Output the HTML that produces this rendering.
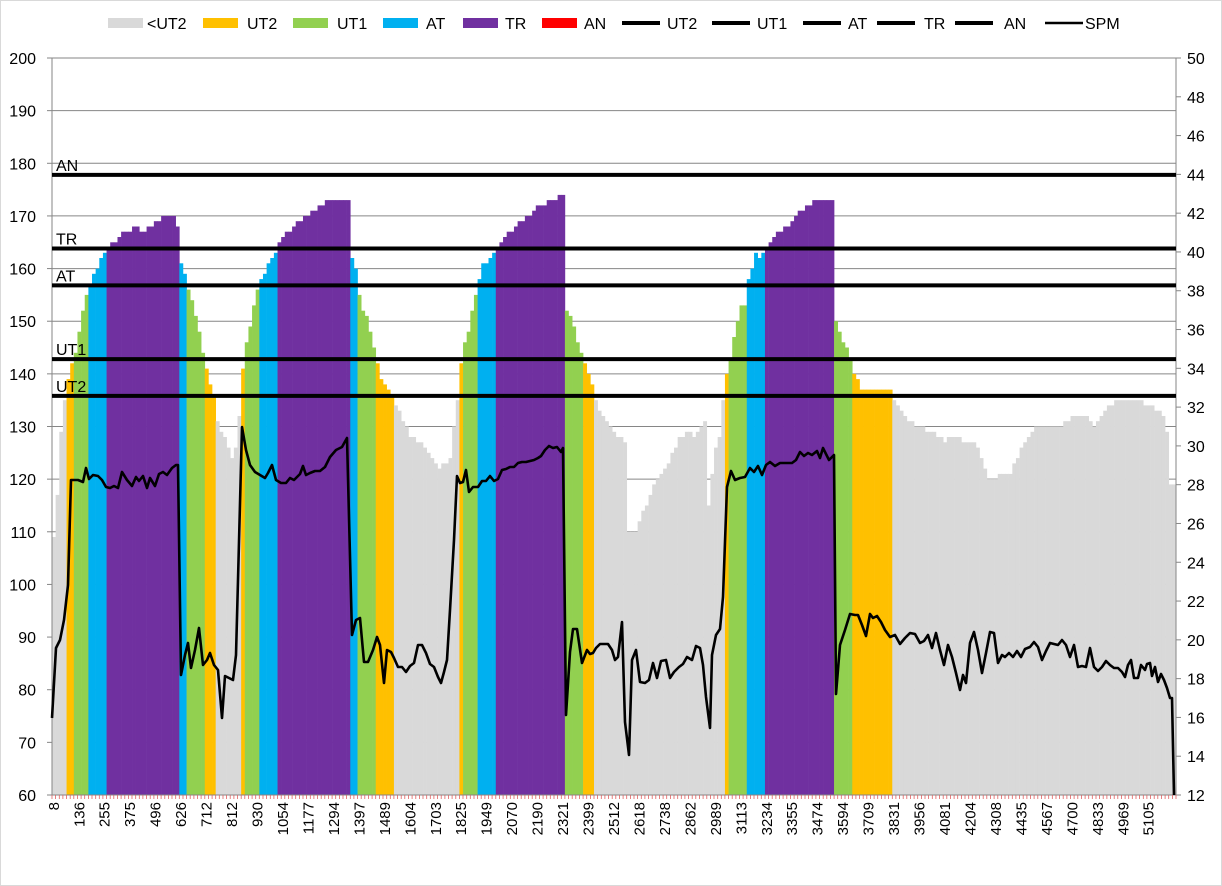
<!DOCTYPE html>
<html><head><meta charset="utf-8"><style>
html,body{margin:0;padding:0;background:#fff}
svg{display:block;font-family:"Liberation Sans",sans-serif}
</style></head><body>
<svg id="c" width="1222" height="886" viewBox="0 0 1222 886" xmlns="http://www.w3.org/2000/svg"></svg>
<script>
var S=document.getElementById('c'),h='';
var L=52,R=1176,T=58,B=795;
function yv(v){return B-(v-60)*(B-T)/140;}
h+='<rect x="0.5" y="0.5" width="1221" height="885" fill="#fff" stroke="#d9d9d9"/>';
for(var v=60;v<=200;v+=10){var y=yv(v);h+='<line x1="'+L+'" x2="'+R+'" y1="'+y+'" y2="'+y+'" stroke="#868686" stroke-width="1"/>';h+='<line x1="'+(L-5)+'" x2="'+L+'" y1="'+y+'" y2="'+y+'" stroke="#868686"/>';h+='<text x="36" y="'+(y+6)+'" font-size="16" text-anchor="end">'+v+'</text>';}
for(var s=12;s<=50;s+=2){var y=B-(s-12)*(B-T)/38;h+='<line x1="'+R+'" x2="'+(R+5)+'" y1="'+y+'" y2="'+y+'" stroke="#868686"/>';h+='<text x="1187" y="'+(y+6)+'" font-size="16">'+s+'</text>';}
var P=[52,107,56,112,61,129,65,135,69,140,73,142,77,145,81,151,85,154,89,157,93,158,96,160,99,161,102,162,106,163,110,164,114,165,118,166,122,167,130,167,136,168,140,167,150,168,155,169,160,169,165,170,177,170,179.5,162,183,160,187,157.5,190,155,194,153,197,150,200,147,203,144,206,141,209,139,212,137,215,135,216,132,220,130,223,128,227,127,231,124,234,125,237,127,240,134,243,141,246,145,250,149,254,153,258,156,261.5,158,265,159,268,161,272,162,275,163,279,165,283,166,300,169,312,171,320,172,330,173,349,173,351,163,356,160,360.5,153,366,151,369,149,372,146,376,144,379,140,383,138,387,137,391,137,393,135,396,134,400,133,404,131,408,129,412,128,420,127,425,126,430,124,435,123,440,122,445,123,450,124,453,128,455,133,458,135,460,140,463,145,467,147,470,150,473,153,476,155,478.5,157,481,160,485,161,489,162,493,163,496.5,164,500,165,505,166,510,167,515,168,520,169,530,170,540,172,550,173,564,174,566,152,572,150,575,148,578,146,581,144,584,142,588,140,592,138,595.5,135,600,133,605,132,610,130,615,129,620,128,625,127,627,110,635,110,638,111,642,113,646,115,650,117,655,119,660,121,665,122,670,124,675,126,680,128,690,129,695,128,700,130,705,131,708,114,712,121,715,126,720,128,723.5,136,728,141,733,146,737,149,740,153,746,153,748.5,158,752,160,755,163,760,162,765,163,769,165,773,166,780,167,787,168,795,170,800,171,808,172,820,173,834,173,836,149,842,147,846,145,850,143,853,141,857,139,862,137,890,137,893,136,896,134,900,133,905,132,910,131,920,130,930,129,940,128,945,127,950,128,960,128,965,127,975,127,980,125,985,122,987,120,995,120,1000,121,1010,121,1015,123,1020,125,1025,127,1030,128,1035,130,1060,130,1065,131,1075,132,1085,132,1090,131,1095,130,1100,131,1105,133,1110,134,1120,135,1140,135,1148,134,1158,133,1163,132,1167,129,1169.5,119,1174,119];
function interp(A,x){for(var i=0;i<A.length-2;i+=2){if(x<=A[i+2]){var t=(x-A[i])/(A[i+2]-A[i]||1);return A[i+1]+(A[i+3]-A[i+1])*Math.max(0,Math.min(1,t));}}return A[A.length-1];}
var N=309,w=(R-L)/N;
for(var i=0;i<N;i++){var xc=L+(i+0.5)*w;if(xc>1175)break;var v=Math.round(interp(P,xc));
var col=v>=178?'#ff0000':v>=164?'#7030a0':v>=157?'#00b0f0':v>=143?'#92d050':v>=136?'#ffc000':'#d9d9d9';
var y=yv(v);h+='<rect x="'+(L+i*w).toFixed(2)+'" y="'+y.toFixed(1)+'" width="'+(w+0.3).toFixed(2)+'" height="'+(B-y).toFixed(1)+'" fill="'+col+'"/>';}
h+='<line x1="'+L+'" x2="'+L+'" y1="'+T+'" y2="'+B+'" stroke="#868686"/>';
h+='<line x1="'+R+'" x2="'+R+'" y1="'+T+'" y2="'+B+'" stroke="#868686"/>';
h+='<line x1="'+L+'" x2="'+R+'" y1="'+B+'" y2="'+B+'" stroke="#868686"/>';
for(var i=0;i<=N;i++){var x=L+i*w;h+='<line x1="'+x.toFixed(1)+'" x2="'+x.toFixed(1)+'" y1="'+B+'" y2="'+(B+4)+'" stroke="#e06060" stroke-width="0.8"/>';}
var labs=[8,136,255,375,496,626,712,812,930,1054,1177,1294,1397,1489,1604,1703,1825,1949,2070,2190,2321,2399,2512,2618,2738,2862,2989,3113,3234,3355,3474,3594,3709,3831,3956,4081,4204,4308,4435,4567,4700,4833,4969,5105];
for(var k=0;k<labs.length;k++){var x=L+(7*k+0.5)*w+5;h+='<text transform="translate('+x.toFixed(1)+',802) rotate(-90)" font-size="15" text-anchor="end">'+labs[k]+'</text>';}
var Z=[['AN',178],['TR',164],['AT',157],['UT1',143],['UT2',136]];
Z.forEach(function(z){var y=yv(z[1])+1;h+='<line x1="'+L+'" x2="'+R+'" y1="'+y+'" y2="'+y+'" stroke="#000" stroke-width="4"/>';h+='<text x="56" y="'+(y-4)+'" font-size="16">'+z[0]+'</text>';});
var Q=[52,718,56,648,60,640,64,620,68,585,71,480,78,480,83,482,86,468,89,479,93,475,98,476,102,480,106,487,110,488,114,486,118,488,122,472,127,480,132,486,136,477,139,481,143,476,147,488,150,478,155,486,159,474,163,472,167,475,172,468,176,465,178,465,181,675,185,655,188,643,191,668,195,650,199,628,203,665,207,660,210,653,214,665,218,670,222,718,225,676,229,678,233,680,236,655,238,580,242,427,246,450,250,465,255,472,260,475,265,478,268,473,272,465,276,480,281,483,286,483,290,478,294,480,300,474,303,466,306,475,310,473,315,471,320,471,325,467,330,457,336,450,342,447,347,438,352,635,356,620,360,618,364,662,368,662,373,650,377,637,380,645,384,683,387,650,391,652,394,658,398,667,402,667,406,672,410,666,414,663,418,645,422,645,426,653,430,664,434,667,438,677,441,683,444,672,447,660,450,610,454,540,457,476,460,483,463,482,466,470,469,492,473,487,478,487,482,481,486,481,490,476,494,481,498,479,502,470,506,469,510,467,514,467,518,463,522,462,526,462,530,461,534,460,538,458,541,456,545,450,549,446,553,448,557,447,561,452,563,448,566,715,570,652,573,629,577,629,582,663,587,650,590,654,593,653,596,648,600,644,604,644,608,644,612,650,615,660,618,657,622,622,625,722,629,755,632,660,636,650,640,682,645,683,649,680,653,663,657,678,661,661,666,660,670,678,674,672,679,667,683,664,687,657,692,660,696,646,700,648,703,665,706,697,710,728,712,655,716,635,720,629,723,597,727,487,731,471,735,480,740,478,745,477,750,468,754,472,758,466,762,475,766,465,770,462,775,466,780,463,786,463,792,463,796,460,800,452,804,456,808,453,812,455,817,451,820,458,823,448,829,460,834,455,836,694,840,645,845,630,850,614,855,615,858,615,862,625,866,636,870,614,873,618,877,616,881,622,885,630,890,637,895,635,900,644,905,638,910,633,915,634,920,643,924,641,928,635,932,648,936,633,940,650,944,665,948,645,952,657,956,673,960,690,963,675,966,683,970,643,974,632,978,650,982,673,986,653,990,632,994,633,998,663,1002,655,1005,657,1009,653,1013,657,1017,651,1021,657,1025,649,1030,647,1034,642,1038,647,1042,660,1046,651,1050,643,1054,644,1058,645,1062,640,1066,645,1070,657,1074,645,1078,667,1082,666,1086,667,1090,648,1094,667,1098,671,1102,667,1106,661,1110,665,1114,668,1118,668,1122,672,1125,677,1128,665,1131,660,1134,678,1138,678,1141,665,1145,670,1147,664,1150,663,1152,676,1155,667,1158,682,1161,674,1164,680,1167,688,1170,698,1172,698,1174,795];
var pts=[];for(var i=0;i<Q.length;i+=2)pts.push(Q[i]+','+Q[i+1]);
h+='<polyline points="'+pts.join(' ')+'" fill="none" stroke="#000" stroke-width="2.6" stroke-linejoin="round"/>';
var lg=[['r','#d9d9d9',108,'<UT2',147],['r','#ffc000',203,'UT2',247],['r','#92d050',293,'UT1',337],['r','#00b0f0',383,'AT',426],['r','#7030a0',463,'TR',505],['r','#ff0000',542,'AN',584],
['l','#000',622,'UT2',667],['l','#000',712,'UT1',757],['l','#000',803,'AT',848],['l','#000',877,'TR',924],['l','#000',955,'AN',1004],['s','#000',1045,'SPM',1085]];
lg.forEach(function(g){if(g[0]=='r')h+='<rect x="'+g[2]+'" y="18" width="35" height="10" fill="'+g[1]+'"/>';else h+='<line x1="'+g[2]+'" x2="'+(g[2]+38)+'" y1="23" y2="23" stroke="#000" stroke-width="'+(g[0]=='l'?4:2.6)+'"/>';
h+='<text x="'+g[4]+'" y="29" font-size="16">'+g[3].replace('<','&lt;')+'</text>';});
S.innerHTML=h;
</script>
</body></html>
